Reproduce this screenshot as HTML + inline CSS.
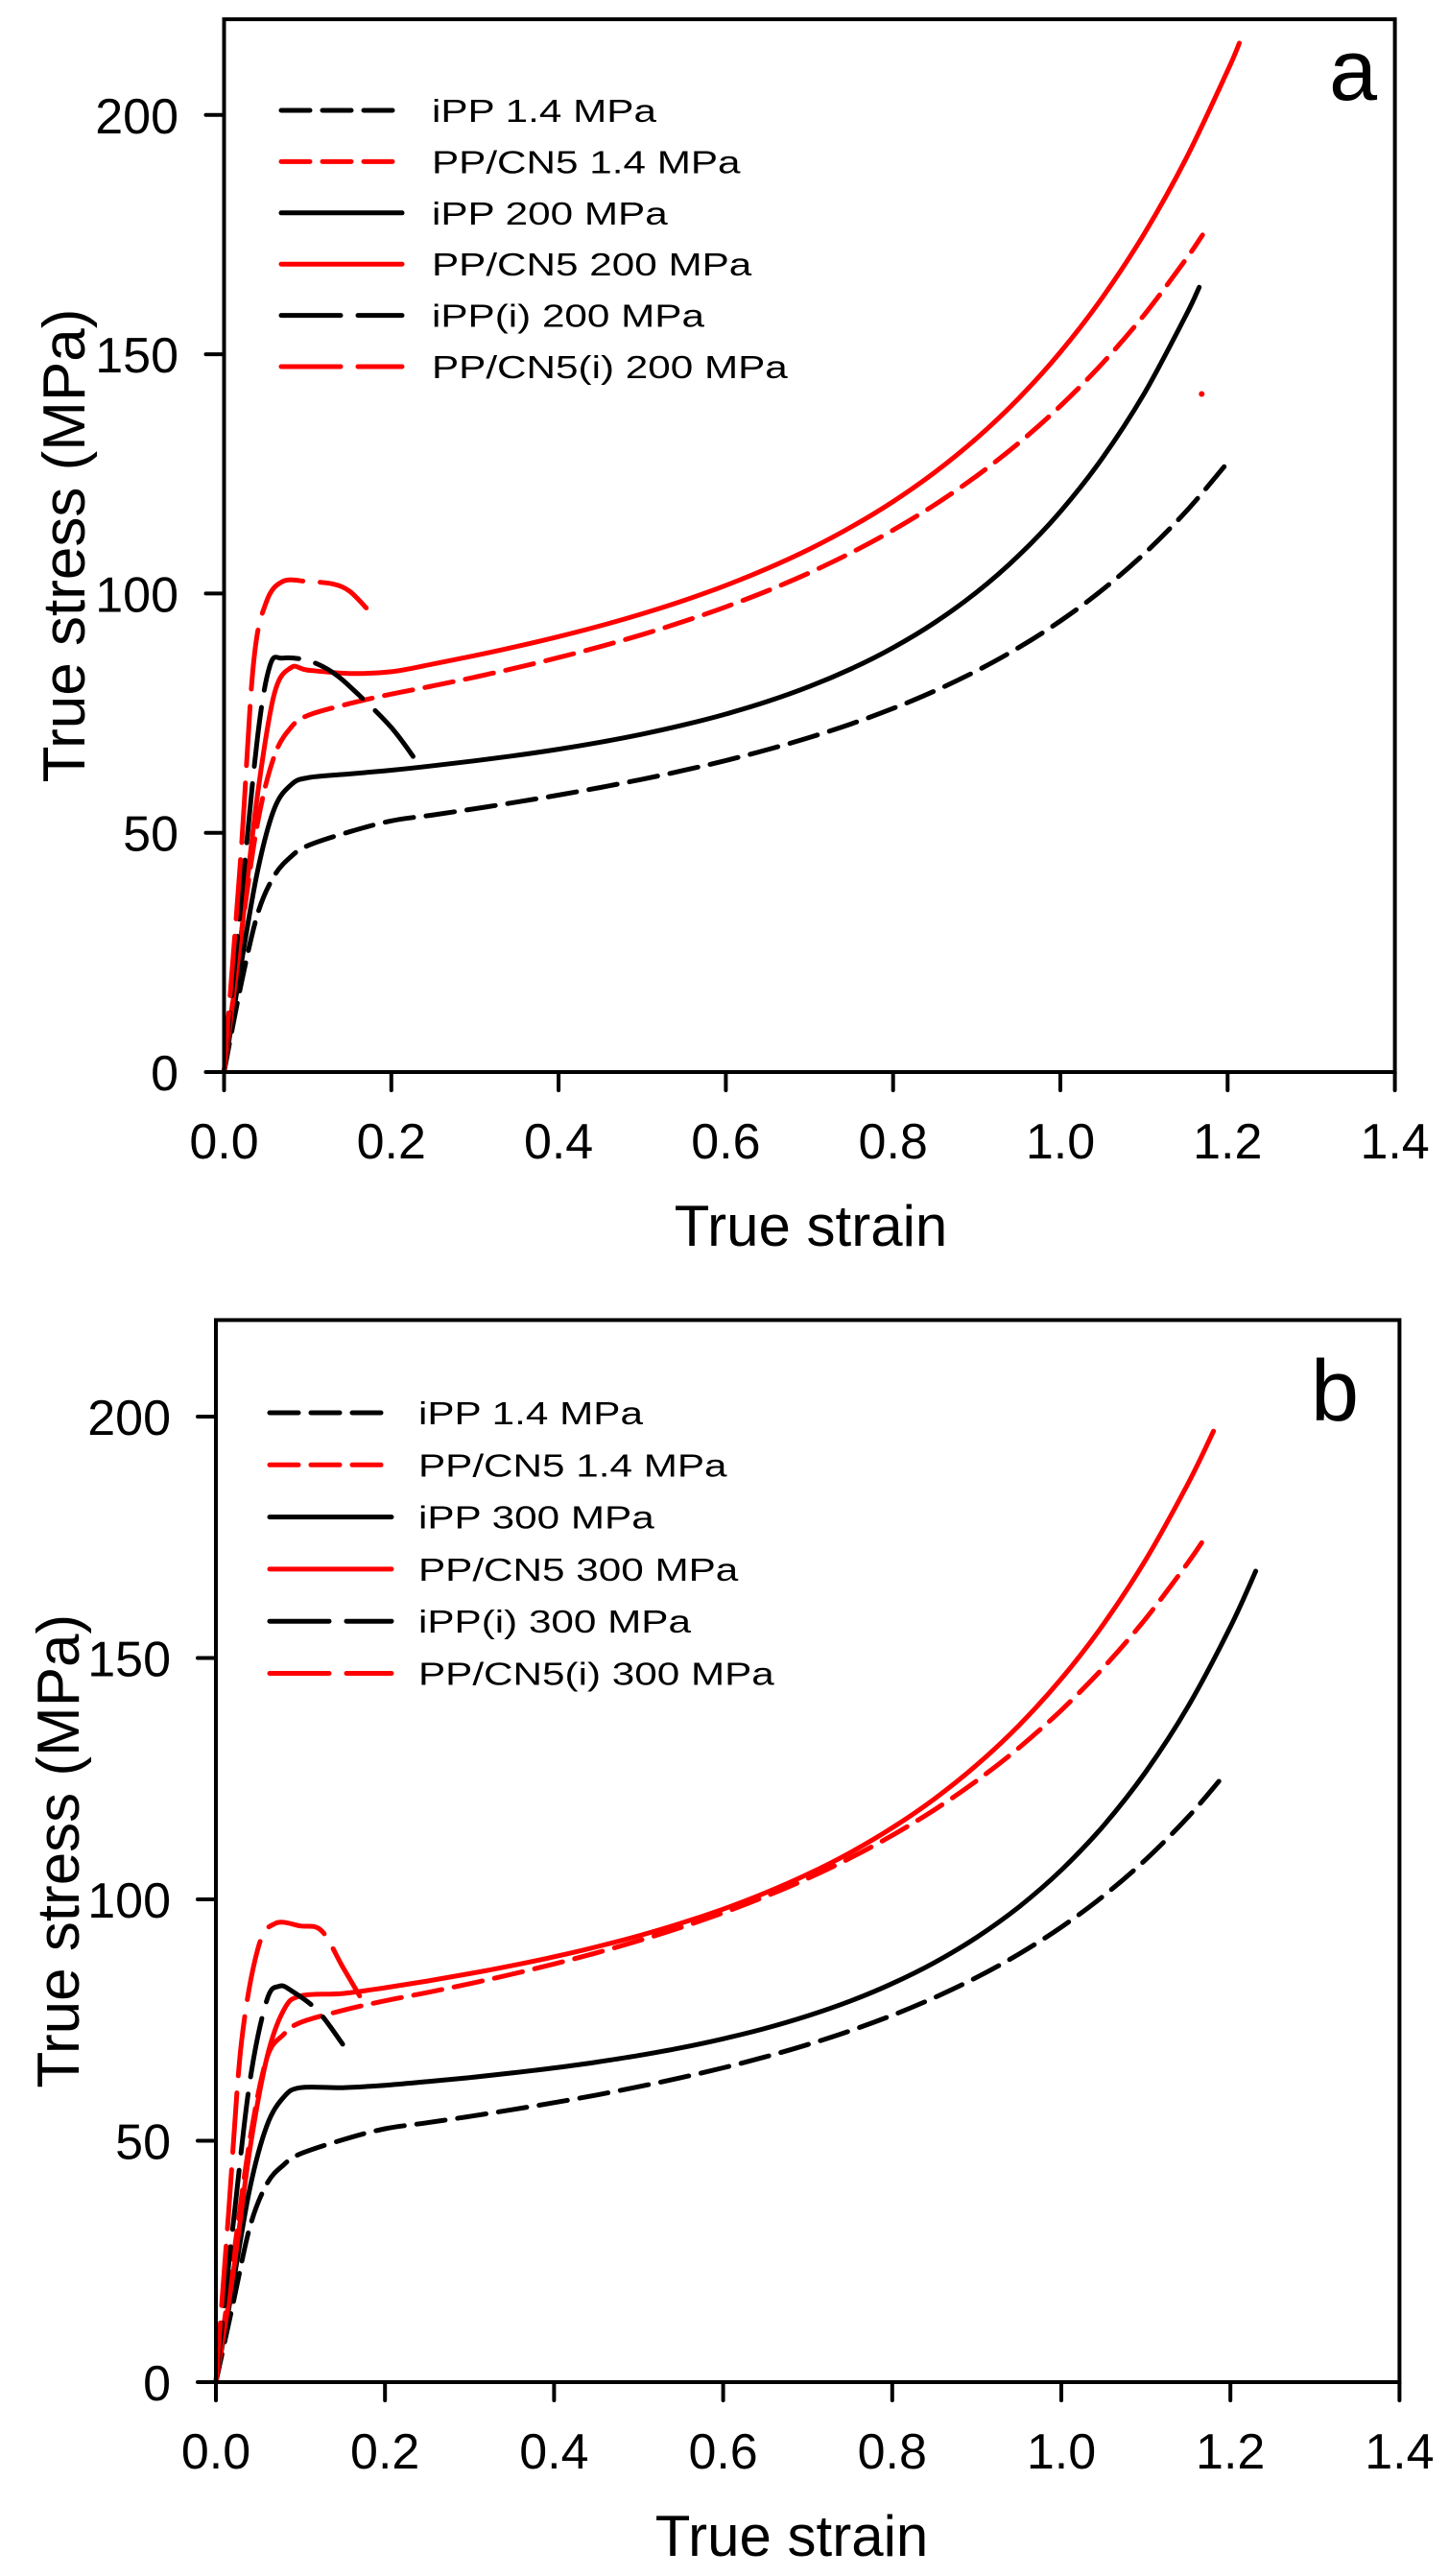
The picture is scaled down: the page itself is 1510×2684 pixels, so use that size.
<!DOCTYPE html>
<html><head><meta charset="utf-8"><style>
html,body{margin:0;padding:0;background:#fff;}
svg{display:block;font-family:"Liberation Sans",Arial,sans-serif;}
</style></head><body>
<svg id="s" width="1510" height="2684" viewBox="0 0 1510 2684" xmlns="http://www.w3.org/2000/svg">
<rect width="1510" height="2684" fill="#fff"/>
<g id="g"></g>
</svg>
<script>
const NS="http://www.w3.org/2000/svg";
const g=document.getElementById('g');
function el(t,a,txt){const e=document.createElementNS(NS,t);for(const k in a)e.setAttribute(k,a[k]);if(txt!==undefined)e.textContent=txt;g.appendChild(e);return e;}
function smooth(p){let d="M"+p[0][0].toFixed(1)+" "+p[0][1].toFixed(1);for(let i=0;i<p.length-1;i++){const p0=p[i-1]||p[i],p1=p[i],p2=p[i+1],p3=p[i+2]||p2;
const c1=[p1[0]+(p2[0]-p0[0])/6,p1[1]+(p2[1]-p0[1])/6],c2=[p2[0]-(p3[0]-p1[0])/6,p2[1]-(p3[1]-p1[1])/6];
d+=" C"+c1[0].toFixed(1)+" "+c1[1].toFixed(1)+" "+c2[0].toFixed(1)+" "+c2[1].toFixed(1)+" "+p2[0].toFixed(1)+" "+p2[1].toFixed(1);}return d;}
const SD="30 13", LD="62 18";
// early points + exponential model from 0.2 to end
function gen(early,a,b,A,k,end){const f=x=>a+b*x+A*(Math.exp(k*x)-1);const d=early.slice();
 for(let x=0.2;x<end-0.001;x+=0.05)d.push([x,f(x)]);d.push([end,f(end)]);return d;}
function panel(P){
 const X=v=>P.x0+v/0.2*P.dx, Y=v=>P.y0-v/50*P.dy;
 const top=Y(220), right=X(1.4);
 P.series.forEach(s=>{
  const pts=[[0,0]].concat(s.d).map(q=>[X(q[0]),Y(q[1])]);
  el('path',{d:smooth(pts),fill:'none',stroke:s.c,'stroke-width':5,'stroke-dasharray':s.da||'none','stroke-linecap':'round','stroke-linejoin':'round'});
 });
 (P.dots||[]).forEach(d=>el('circle',{cx:X(d[0]),cy:Y(d[1]),r:3,fill:'#f00'}));
 el('rect',{x:P.x0,y:top,width:right-P.x0,height:P.y0-top,fill:'none',stroke:'#000','stroke-width':4});
 for(let i=0;i<=7;i++){const x=X(i*0.2);el('line',{x1:x,y1:P.y0,x2:x,y2:P.y0+19,stroke:'#000','stroke-width':4,'stroke-linecap':'round'});
  el('text',{x:x,y:P.y0+90,'font-size':52,'text-anchor':'middle'},(i*0.2).toFixed(1));}
 for(let v=0;v<=200;v+=50){const y=Y(v);el('line',{x1:P.x0-19,y1:y,x2:P.x0,y2:y,stroke:'#000','stroke-width':4,'stroke-linecap':'round'});
  el('text',{x:P.lx,y:y+19,'font-size':52,'text-anchor':'end'},String(v));}
 el('text',{x:P.xlc,y:P.y0+181,'font-size':60,'text-anchor':'middle'},'True strain');
 const yc=(top+P.y0)/2;
 el('text',{x:0,y:0,'font-size':62,'text-anchor':'middle',transform:`translate(${P.ylx},${yc}) rotate(-90)`},'True stress (MPa)');
 el('text',{x:P.let[0],y:P.let[1],'font-size':90},P.letter);
 P.leg.forEach((l,i)=>{const y=P.ly+i*P.lsp;
  el('line',{x1:P.lx1,y1:y,x2:P.lx2,y2:y,stroke:l[1],'stroke-width':5,'stroke-dasharray':l[2]||'none','stroke-linecap':'round'});
  el('text',{x:0,y:0,'font-size':33,transform:`translate(${P.ltx},${y+12}) scale(1.28,1)`},l[0]);});
}
panel({x0:233.5,dx:174.3,y0:1117,dy:249.3,lx:186,xlc:845,ylx:88,let:[1385,104],letter:'a',
 ly:115,lsp:53.4,lx1:293,lx2:419,ltx:450,
 leg:[['iPP 1.4 MPa','#000',SD],['PP/CN5 1.4 MPa','#f00',SD],['iPP 200 MPa','#000'],['PP/CN5 200 MPa','#f00'],['iPP(i) 200 MPa','#000',LD],['PP/CN5(i) 200 MPa','#f00',LD]],
 series:[
 {c:'#000',da:SD,d:gen([[0.02,18],[0.04,33],[0.06,41],[0.08,45],[0.1,47.3],[0.15,50.2]],48,18,0.88,3.5,1.196)},
 {c:'#f00',da:SD,d:gen([[0.02,28],[0.04,52],[0.06,66],[0.08,72],[0.1,74.5],[0.15,77]],73,20,2.42,3,1.17)},
 {c:'#000',d:gen([[0.02,22],[0.04,42],[0.06,55],[0.08,60],[0.1,61.5],[0.15,62.3]],60,10,0.879,4,1.166)},
 {c:'#f00',d:gen([[0.02,28],[0.04,58],[0.06,79],[0.08,84.5],[0.1,84],[0.15,83.3]],78,20,1.633,3.5,1.214)},
 {c:'#000',da:LD,d:[[0.02,35],[0.04,70],[0.055,85],[0.07,86.5],[0.1,86],[0.13,83.5],[0.16,79],[0.2,72],[0.23,65]]},
 {c:'#f00',da:LD,d:[[0.02,45],[0.035,85],[0.05,98],[0.07,102.5],[0.1,102.5],[0.13,102],[0.15,100.5],[0.17,97]]}],
 dots:[[1.169,141.7]]
});
panel({x0:225,dx:176.2,y0:2482,dy:251.5,lx:178,xlc:825,ylx:82,let:[1366,1480],letter:'b',
 ly:1472,lsp:54.3,lx1:281,lx2:408,ltx:436,
 leg:[['iPP 1.4 MPa','#000',SD],['PP/CN5 1.4 MPa','#f00',SD],['iPP 300 MPa','#000'],['PP/CN5 300 MPa','#f00'],['iPP(i) 300 MPa','#000',LD],['PP/CN5(i) 300 MPa','#f00',LD]],
 series:[
 {c:'#000',da:SD,d:gen([[0.02,16],[0.04,32],[0.06,41],[0.08,45],[0.1,47.3],[0.15,50.2]],48,18,0.88,3.5,1.19)},
 {c:'#f00',da:SD,d:gen([[0.02,25],[0.04,50],[0.06,67],[0.08,72],[0.1,74.5],[0.15,77]],73,20,2.42,3,1.17)},
 {c:'#000',d:gen([[0.02,20],[0.04,40],[0.06,53],[0.08,59],[0.1,61],[0.15,61]],59,8,0.729,4,1.23)},
 {c:'#f00',d:gen([[0.02,22],[0.04,48],[0.06,67],[0.08,77],[0.1,80],[0.15,80.5]],77,15,1.672,3.5,1.18)},
 {c:'#000',da:LD,d:[[0.02,32],[0.04,62],[0.06,79],[0.075,82],[0.09,81],[0.12,77],[0.15,70]]},
 {c:'#f00',da:LD,d:[[0.015,35],[0.03,70],[0.05,90],[0.07,95],[0.1,94.5],[0.125,93.5],[0.15,86],[0.17,80]]}]
});
</script>
</body></html>
